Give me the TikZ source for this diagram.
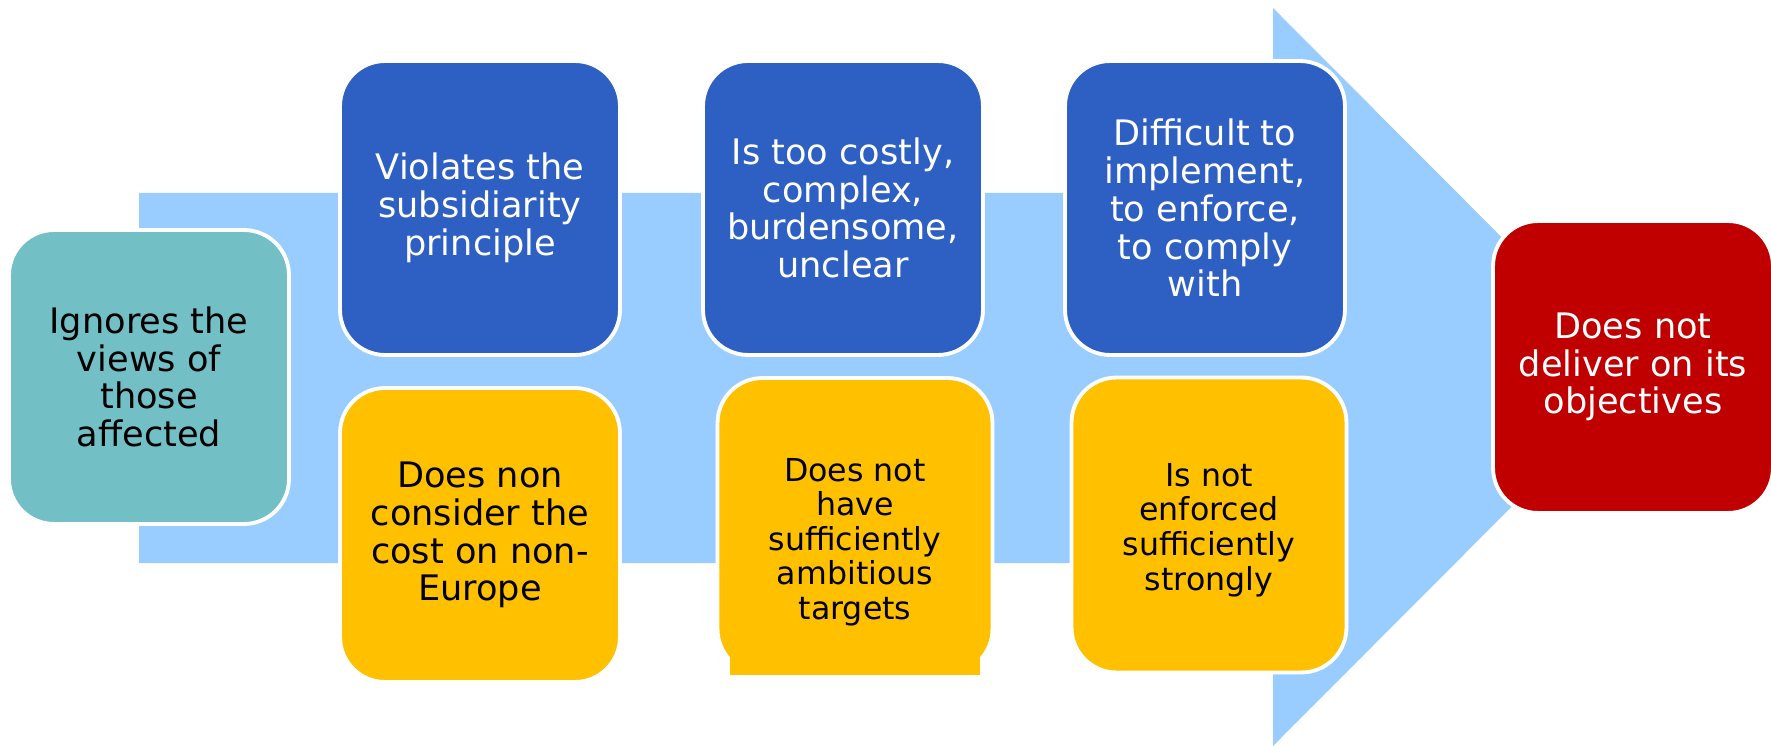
\documentclass[tikz,border=0pt]{standalone}
\usepackage{fontspec}
\setmainfont{DejaVu Sans}
\usepackage{tikz}
\definecolor{shaft}{HTML}{99CCFF}
\definecolor{tealbox}{HTML}{72BFC5}
\definecolor{bluebox}{HTML}{2E5FC2}
\definecolor{goldbox}{HTML}{FFC000}
\definecolor{redbox}{HTML}{C00000}
\tikzset{
    box/.style={
           rectangle, rounded corners=0.9cm,
           draw=white, line width=2.2pt,
           minimum width=5.6cm, minimum height=5.88cm,
           inner sep=2pt,
           align=center,
           font=\fontsize{20}{21.5}\selectfont,
           },
}
\tikzset{
    views/.style={box, fill=tealbox, text=black},
    flaw/.style={box, fill=bluebox, text=white},
    gap/.style={box, fill=goldbox, text=black},
    small/.style={font=\fontsize{18}{19.7}\selectfont},
    result/.style={box, fill=redbox, text=white},
}

\begin{document}
\begin{tikzpicture}[x=0.02cm, y=-0.02cm]
\useasboundingbox (0,0) rectangle (1771,746);
% big arrow behind the boxes
\fill[shaft] (139,193) -- (1273,193) -- (1273,8) -- (1641,377)
   -- (1273,746) -- (1273,563) -- (139,563) -- cycle;
\node[views] (views) at (149,377) {Ignores the\\views of\\those\\affected};
\node[flaw] (subsid) at (480,208) {Violates the\\subsidiarity\\principle};
\node[flaw] (costly) at (843,208) {Is too costly,\\complex,\\burdensome,\\unclear};
\node[flaw] (implement) at (1205,208) {Difficult to\\implement,\\to enforce,\\to comply\\with};
\node[gap] (noneurope) at (480,535) {Does non\\consider the\\cost on non-\\Europe};
\node[gap, minimum width=5.5cm, minimum height=5.92cm] (targets) at (855,526) {};
\fill[goldbox] (730,653) rectangle (980,675);
\node[small, align=center] (targetstext) at ([yshift=-0.32cm]targets.center) {Does not\\have\\sufficiently\\ambitious\\targets};
\node[gap, minimum width=5.5cm, minimum height=5.9cm] (enforced) at (1209,525) {};
\node[small, align=center] (enforcedtext) at ([yshift=-0.1cm]enforced.center) {Is not\\enforced\\sufficiently\\strongly};
\node[result, minimum height=5.84cm] (deliver) at (1633,367) {Does not\\deliver on its\\objectives};
\end{tikzpicture}
\end{document}
